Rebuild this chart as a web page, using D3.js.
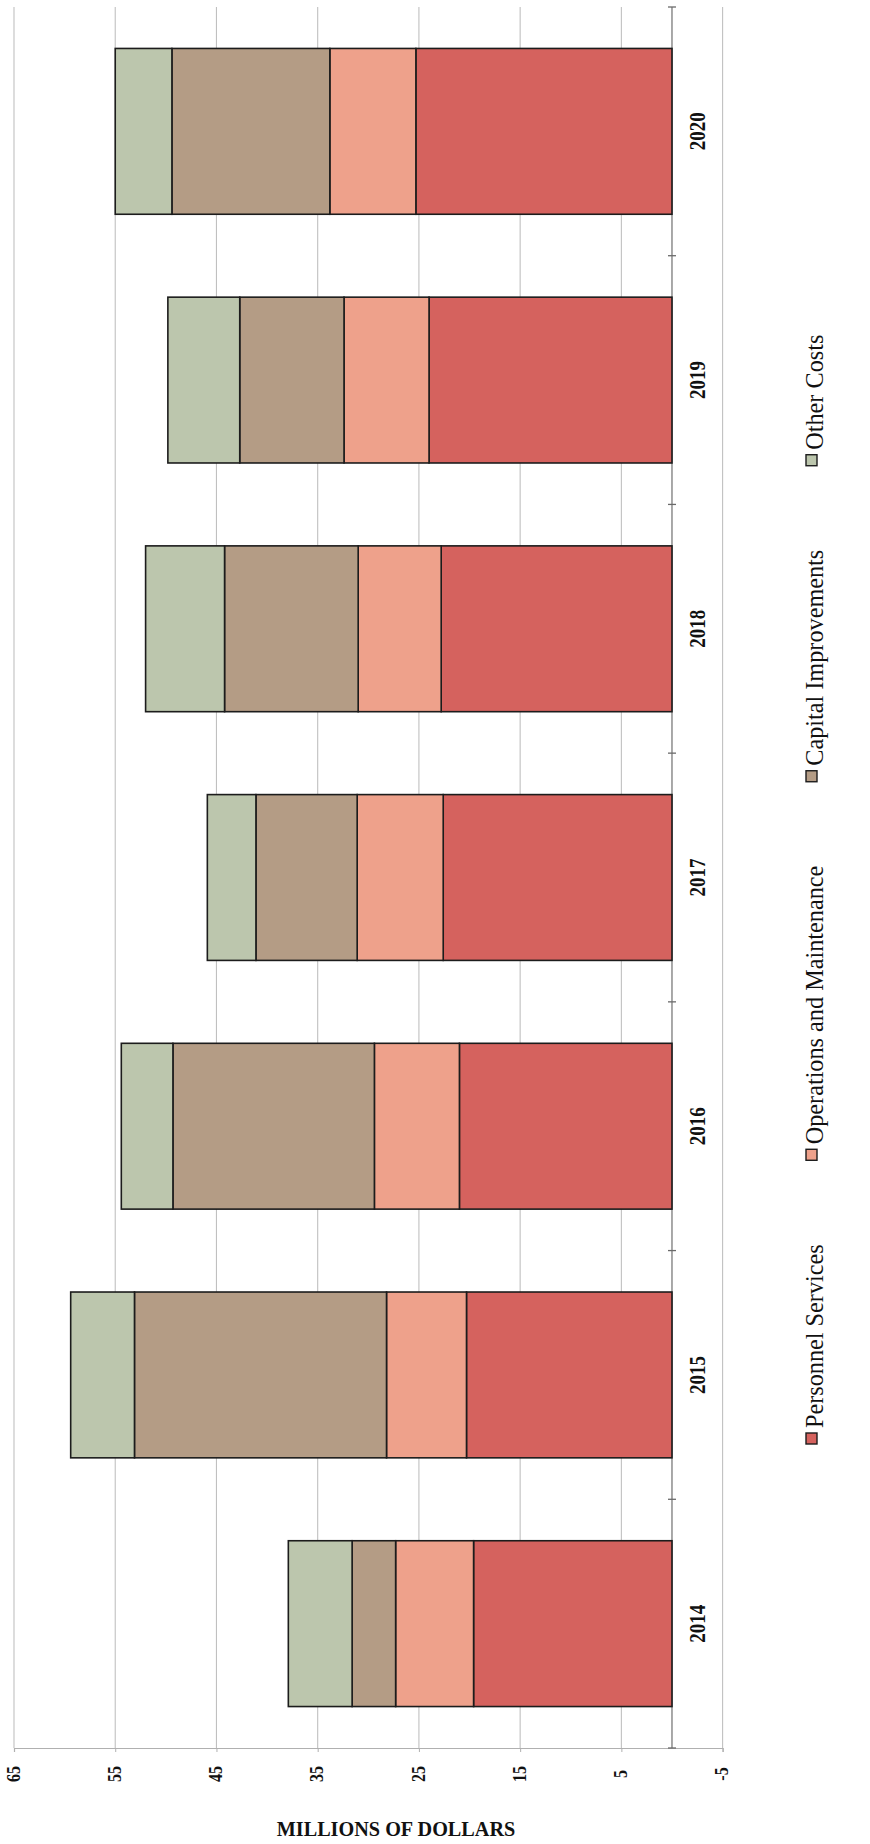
<!DOCTYPE html>
<html>
<head>
<meta charset="utf-8">
<script src="https://cdn.jsdelivr.net/npm/d3@7"></script>
<style>
  html, body { margin: 0; padding: 0; background: #ffffff; }
  svg { display: block; }
</style>
</head>
<body>
<svg id="chart" width="870" height="1844"></svg>
<script>
// Expenditures by category, millions of dollars
const years = ["2014", "2015", "2016", "2017", "2018", "2019", "2020"];
const personnelServices = [19.6, 20.3, 21.0, 22.6, 22.8, 24.0, 25.3];
const operationsMaintenance = [7.7, 7.9, 8.4, 8.5, 8.2, 8.4, 8.5];
const capitalImprovements = [4.3, 24.9, 19.9, 10.0, 13.2, 10.3, 15.6];
const otherCosts = [6.3, 6.3, 5.1, 4.8, 7.8, 7.1, 5.6];
const seriesNames = ["Personnel Services", "Operations and Maintenance", "Capital Improvements", "Other Costs"];
const valueTicks = [65, 55, 45, 35, 25, 15, 5, -5];
const axisTitle = "MILLIONS OF DOLLARS";

const seriesColors = ["#d5625e", "#eea18b", "#b49c85", "#bcc6ad"];

const rows = years.map((yr, i) => ({
  year: yr,
  [seriesNames[0]]: personnelServices[i],
  [seriesNames[1]]: operationsMaintenance[i],
  [seriesNames[2]]: capitalImprovements[i],
  [seriesNames[3]]: otherCosts[i]
}));

const svg = d3.select("#chart");
const plotTop = 7, plotBottom = 1748;

// Value axis runs right-to-left across the page (chart printed sideways)
const x = d3.scaleLinear().domain([65, -5]).range([14, 722.6]);
// Years run down the page, latest at the top
const y = d3.scaleBand()
  .domain(years.slice().reverse())
  .range([plotTop, plotBottom])
  .paddingInner(1 / 3)
  .paddingOuter(1 / 6);

const color = d3.scaleOrdinal().domain(seriesNames).range(seriesColors);
const serif = "'Liberation Serif', 'Times New Roman', serif";

// Gridlines
svg.append("g").selectAll("line")
  .data(valueTicks)
  .join("line")
  .attr("x1", d => x(d)).attr("x2", d => x(d))
  .attr("y1", plotTop).attr("y2", plotBottom)
  .attr("stroke", "#c0c0c0")
  .attr("stroke-width", 1.1);

// Value axis along the bottom edge
const xAxis = d3.axisBottom(x).tickValues(valueTicks).tickSize(4).tickFormat("");
const gx = svg.append("g").attr("transform", `translate(0,${plotBottom})`).call(xAxis);
gx.select(".domain").attr("stroke", "#b0b0b0").attr("stroke-width", 1.2);
gx.selectAll(".tick line").attr("stroke", "#b0b0b0");

// Value tick labels, rotated
svg.append("g").selectAll("text")
  .data(valueTicks)
  .join("text")
  .attr("transform", d => `translate(${x(d)},1774) rotate(-90) scale(1,1.12)`)
  .attr("text-anchor", "middle")
  .attr("dominant-baseline", "central")
  .style("font-family", serif)
  .style("font-weight", "bold")
  .style("font-size", "16px")
  .attr("fill", "#111")
  .text(d => d);

// Category axis at the zero line, ticks between years
const step = y.step();
const gap = step - y.bandwidth();
const bounds = years.slice().reverse().map(d => y(d) - gap / 2);
bounds.push(bounds[bounds.length - 1] + step);
const zx = x(0);
svg.append("line")
  .attr("x1", zx).attr("x2", zx)
  .attr("y1", plotTop).attr("y2", plotBottom)
  .attr("stroke", "#7a7a7a").attr("stroke-width", 1.3);
svg.append("g").selectAll("line")
  .data(bounds)
  .join("line")
  .attr("x1", zx - 4).attr("x2", zx + 4)
  .attr("y1", d => d).attr("y2", d => d)
  .attr("stroke", "#6a6a6a").attr("stroke-width", 1.3);

// Stacked bars
const stacked = d3.stack().keys(seriesNames)(rows);
svg.append("g").selectAll("g")
  .data(stacked)
  .join("g")
  .attr("fill", d => color(d.key))
  .selectAll("rect")
  .data(d => d)
  .join("rect")
  .attr("x", d => x(d[1]))
  .attr("width", d => x(d[0]) - x(d[1]))
  .attr("y", d => y(d.data.year))
  .attr("height", y.bandwidth())
  .attr("stroke", "#1c1c1c")
  .attr("stroke-width", 1.6);

// Year labels beside the zero line
svg.append("g").selectAll("text")
  .data(years)
  .join("text")
  .attr("transform", d => `translate(697,${y(d) + y.bandwidth() / 2}) rotate(-90) scale(1,1.2)`)
  .attr("text-anchor", "middle")
  .attr("dominant-baseline", "central")
  .style("font-family", serif)
  .style("font-weight", "bold")
  .style("font-size", "19px")
  .attr("fill", "#111")
  .text(d => d);

// Axis title
svg.append("text")
  .attr("transform", "translate(396,1836) scale(0.92,1)")
  .attr("text-anchor", "middle")
  .style("font-family", serif)
  .style("font-weight", "bold")
  .style("font-size", "22px")
  .attr("fill", "#111")
  .text(axisTitle);

// Legend, reading upward from the bottom of the page
const legend = svg.append("g");
const legendBaseX = 823, swatch = 11, legendGap = 84;
let cursor = 1444;
seriesNames.forEach(name => {
  legend.append("rect")
    .attr("x", 806).attr("y", cursor - swatch)
    .attr("width", swatch).attr("height", swatch)
    .attr("fill", color(name))
    .attr("stroke", "#1c1c1c").attr("stroke-width", 1.4);
  cursor -= swatch + 5;
  const t = legend.append("text")
    .attr("transform", `translate(${legendBaseX},${cursor}) rotate(-90) scale(0.97,1.05)`)
    .attr("text-anchor", "start")
    .style("font-family", serif)
    .style("font-size", "25px")
    .attr("fill", "#111")
    .text(name);
  cursor -= t.node().getComputedTextLength() * 0.97 + legendGap;
});
</script>
</body>
</html>
